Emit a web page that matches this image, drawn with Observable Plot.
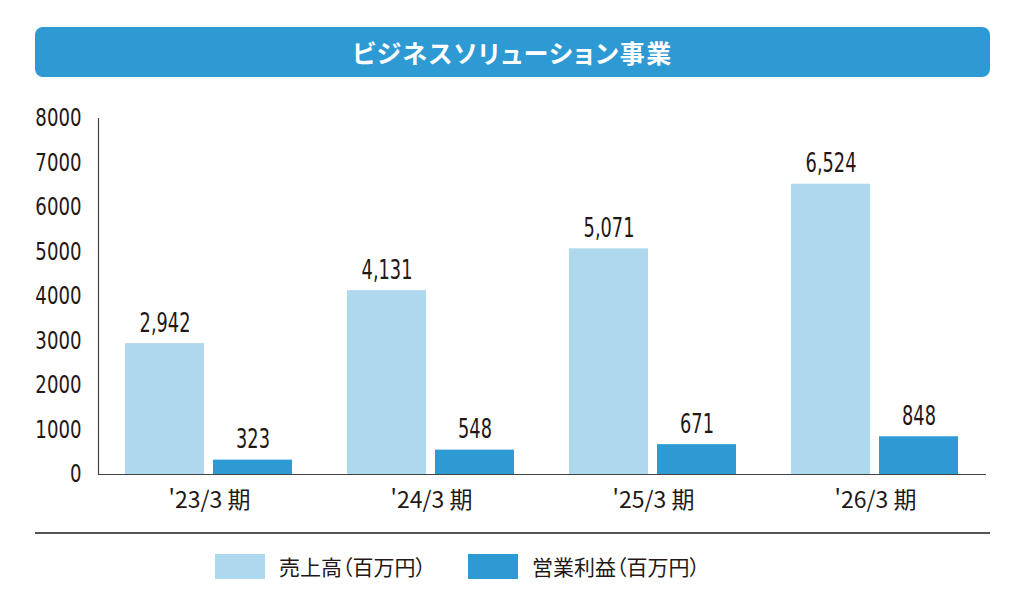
<!DOCTYPE html>
<html lang="ja">
<head>
<meta charset="utf-8">
<script src="https://cdn.jsdelivr.net/npm/d3@7"></script>
<script src="https://cdn.jsdelivr.net/npm/@observablehq/plot@0.6"></script>
<style>
  html, body { margin: 0; padding: 0; background: #fff; }
  body { width: 1025px; height: 611px; position: relative; overflow: hidden;
         font-family: "Noto Sans CJK JP", "Noto Sans", sans-serif; color: #231815; }
  #title { position: absolute; left: 35px; top: 27px; width: 955px; height: 50px;
           background: #2e9ad4; border-radius: 8px; color: #fff; font-weight: 700;
           font-size: 25px; line-height: 50px; text-align: center;
           font-feature-settings: "palt"; letter-spacing: 1.5px; }
  #chart { position: absolute; left: 0; top: 95px; }
  /* condensed figures for the value axis and the bar labels */
  #chart svg .num text { font-family: "DejaVu Sans Condensed", "DejaVu Sans", sans-serif; }
  #chart svg .fxticks text { font-family: "Noto Sans CJK JP", "Noto Sans", sans-serif; }
  #divider { position: absolute; left: 35px; top: 532px; width: 955px; height: 1.5px; background: #555; }
  #legend { position: absolute; left: 0; top: 550px; width: 1025px; height: 32px; }
  .item { position: absolute; top: 0; display: flex; align-items: center; height: 32px;
          font-size: 21px; color: #231815; font-feature-settings: "palt"; }
  .swatch { width: 50px; height: 25px; margin-right: 14px; }
</style>
</head>
<body>
<div id="title">ビジネスソリューション事業</div>
<div id="chart"></div>
<div id="divider"></div>
<div id="legend"></div>
<script>
// Fiscal periods and the two series, in millions of yen
const periods = ["'23/3 期", "'24/3 期", "'25/3 期", "'26/3 期"];
const sales = [2942, 4131, 5071, 6524];
const operatingProfit = [323, 548, 671, 848];
const seriesNames = ["売上高（百万円）", "営業利益（百万円）"];
const seriesColors = ["#aed8ee", "#2e9ad4"];
const yTicks = [0, 1000, 2000, 3000, 4000, 5000, 6000, 7000, 8000];

const rows = periods.flatMap((p, i) => [
  {period: p, series: seriesNames[0], value: sales[i]},
  {period: p, series: seriesNames[1], value: operatingProfit[i]}
]);

const fmt = d3.format(",");

const chart = Plot.plot({
  width: 1025,
  height: 420,
  marginLeft: 97,
  marginRight: 39,
  marginTop: 23,
  marginBottom: 41,
  style: {color: "#231815", background: "transparent", overflow: "visible"},
  fx: {domain: periods, padding: 0, label: null},
  x: {domain: seriesNames, paddingInner: 0.101, paddingOuter: 0.299, axis: null},
  y: {domain: [0, 8000], label: null},
  color: {domain: seriesNames, range: seriesColors},
  marks: [
    Plot.barY(rows, {fx: "period", x: "series", y: "value", fill: "series"}),
    Plot.text(rows, {
      fx: "period", x: "series", y: "value", text: d => fmt(d.value),
      lineAnchor: "bottom", dy: -12, fontSize: 26, fill: "#231815",
      className: "num vlabels"
    }),
    Plot.axisY({ticks: yTicks, tickSize: 0, tickPadding: 17, tickFormat: d => String(d),
                fontSize: 24, label: null, className: "num yticks"}),
    Plot.axisFx({anchor: "bottom", tickSize: 0, tickPadding: 17, fontSize: 23, label: null,
                 className: "fxticks"}),
    Plot.ruleY([0], {stroke: "#444", strokeWidth: 1.2}),
    Plot.frame({anchor: "left", facet: "super", stroke: "#444", strokeWidth: 1.2})
  ]
});
document.getElementById("chart").appendChild(chart);

// Narrow the figures horizontally about a pivot on each label's own box
// (right edge for right-aligned labels, centre for centred ones)
function condense(selector, k, side) {
  d3.select(chart).selectAll(selector).each(function () {
    const b = this.getBBox();
    const px = side === "right" ? b.x + b.width : b.x + b.width / 2;
    const py = b.y + b.height / 2;
    const tr = this.getAttribute("transform") || "";
    this.setAttribute("transform",
      `${tr} translate(${px},${py}) scale(${k},1) translate(${-px},${-py})`.trim());
  });
}
condense(".yticks text", 0.84, "right");
condense(".vlabels text", 0.76, "center");

// Legend below the chart
const legendX = [215, 468];
const legend = document.getElementById("legend");
seriesNames.forEach((name, i) => {
  const item = document.createElement("div");
  item.className = "item";
  item.style.left = legendX[i] + "px";
  const sw = document.createElement("div");
  sw.className = "swatch";
  sw.style.background = seriesColors[i];
  const label = document.createElement("span");
  label.textContent = name;
  item.appendChild(sw);
  item.appendChild(label);
  legend.appendChild(item);
});
</script>
</body>
</html>
